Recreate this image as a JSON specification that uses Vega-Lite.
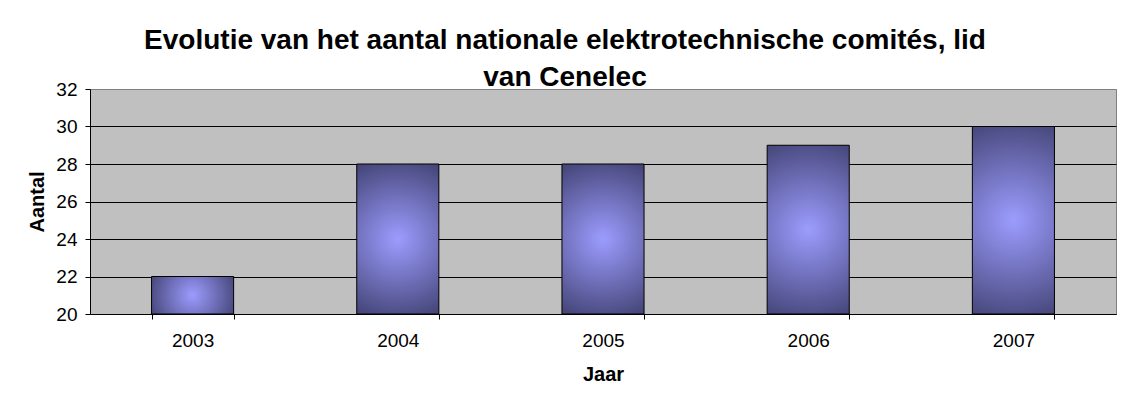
{
  "$schema": "https://vega.github.io/schema/vega-lite/v6.json",
  "width": 1026,
  "height": 225,
  "autosize": {"type": "none"},
  "padding": {"left": 90, "top": 89, "right": 7, "bottom": 89},
  "background": "white",
  "title": {
    "text": ["Evolutie van het aantal nationale elektrotechnische comités, lid", "van Cenelec"],
    "font": "Liberation Sans",
    "fontSize": 28,
    "fontWeight": "bold",
    "color": "black",
    "anchor": "middle",
    "frame": "group",
    "dx": -38,
    "lineHeight": 37,
    "offset": -12
  },
  "data": {
    "values": [
      {"Jaar": "2003", "Aantal": 22},
      {"Jaar": "2004", "Aantal": 28},
      {"Jaar": "2005", "Aantal": 28},
      {"Jaar": "2006", "Aantal": 29},
      {"Jaar": "2007", "Aantal": 30}
    ]
  },
  "mark": {
    "type": "bar",
    "stroke": "black",
    "strokeWidth": 1,
    "fill": {
      "gradient": "radial",
      "x1": 0.5, "y1": 0.5, "r1": 0,
      "x2": 0.5, "y2": 0.5, "r2": 0.55,
      "stops": [
        {"offset": 0, "color": "#9C9CFF"},
        {"offset": 1, "color": "#46467A"}
      ]
    }
  },
  "encoding": {
    "x": {
      "field": "Jaar",
      "type": "ordinal",
      "scale": {"paddingInner": 0.6, "paddingOuter": 0.3},
      "axis": {
        "title": "Jaar",
        "labelAngle": 0,
        "tickBand": "extent",
        "grid": false,
        "labelPadding": 12,
        "titlePadding": 14
      }
    },
    "y": {
      "field": "Aantal",
      "type": "quantitative",
      "scale": {"domain": [20, 32], "zero": false, "nice": false},
      "axis": {
        "title": "Aantal",
        "values": [20, 22, 24, 26, 28, 30, 32],
        "grid": true,
        "gridColor": {"condition": {"test": "datum.value == 32", "value": "#808080"}, "value": "black"},
        "labelPadding": 8,
        "titlePadding": 8
      }
    },
    "y2": {"datum": 20}
  },
  "config": {
    "view": {"fill": "#C0C0C0", "stroke": "#808080", "strokeWidth": 1},
    "axis": {
      "labelFont": "Liberation Sans",
      "labelFontSize": 19,
      "labelColor": "black",
      "titleFont": "Liberation Sans",
      "titleFontSize": 20,
      "titleFontWeight": "bold",
      "titleColor": "black",
      "domainColor": "black",
      "tickColor": "black",
      "tickSize": 5,
      "gridOpacity": 1,
      "gridWidth": 1
    }
  }
}
